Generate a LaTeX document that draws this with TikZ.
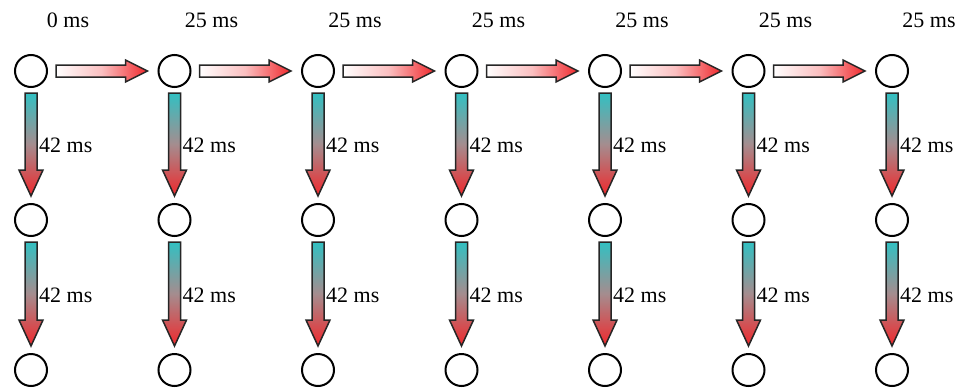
\documentclass[tikz,border=0pt]{standalone}
\usepackage{fontspec}
\setmainfont{Liberation Serif}
\usetikzlibrary{calc}
\definecolor{arrred}{RGB}{240,40,44}
\definecolor{arrteal}{RGB}{50,192,194}
\definecolor{arrgray}{RGB}{165,140,142}
\tikzset{
  stage/.style={circle, draw=black, line width=2pt, fill=white, minimum size=32pt, inner sep=0pt},
  hfat/.style={draw=black!85, line width=1.5pt, left color=white, right color=arrred, middle color=arrred!30},
  vfat/.style={draw=black!85, line width=1.5pt, top color=arrteal, bottom color=arrred, middle color=arrgray},
  tlabel/.style={font=\fontsize{22}{24}\selectfont, inner sep=0pt},
}
% horizontal fat arrow between two stage nodes
\newcommand\harrow[2]{%
  \path[hfat] ([xshift=8pt,yshift=6pt]#1.east) -- ([xshift=-32pt,yshift=6pt]#2.west)
    -- ([xshift=-32pt,yshift=11pt]#2.west) -- ([xshift=-10pt]#2.west)
    -- ([xshift=-32pt,yshift=-11pt]#2.west) -- ([xshift=-32pt,yshift=-6pt]#2.west)
    -- ([xshift=8pt,yshift=-6pt]#1.east) -- cycle;}
% vertical fat arrow between two stage nodes, with its delay label
\newcommand\varrow[2]{%
  \path[vfat] ([xshift=-6pt,yshift=-5pt]#1.south) -- ([xshift=-6pt,yshift=33pt]#2.north)
    -- ([xshift=-12pt,yshift=33pt]#2.north) -- ([yshift=7pt]#2.north)
    -- ([xshift=12pt,yshift=33pt]#2.north) -- ([xshift=6pt,yshift=33pt]#2.north)
    -- ([xshift=6pt,yshift=-5pt]#1.south) -- cycle;
  \node[tlabel, anchor=west] (#1-#2-lbl) at ($(#1.south)!0.5!(#2.north)+(8,0)$) {42 ms};}
\begin{document}
\begin{tikzpicture}[x=1pt, y=-1pt]
  \useasboundingbox (0,0) rectangle (963,388);
  \foreach \c in {0,...,6} {
    \pgfmathsetmacro{\cx}{31+143.5*\c}
    \node[stage] (n\c-0) at (\cx,71) {};
    \node[stage] (n\c-1) at (\cx,220) {};
    \node[stage] (n\c-2) at (\cx,370) {};
  }
  \node[tlabel] (t0) at ($(n0-0)+(37,-51)$) {0 ms};
  \foreach \c in {1,...,6} {
    \node[tlabel] (t\c) at ($(n\c-0)+(37,-51)$) {25 ms};
  }
  \foreach \c [count=\d from 1] in {0,...,5} {
    \harrow{n\c-0}{n\d-0}
  }
  \foreach \c in {0,...,6} {
    \varrow{n\c-0}{n\c-1}
    \varrow{n\c-1}{n\c-2}
  }
\end{tikzpicture}
\end{document}
